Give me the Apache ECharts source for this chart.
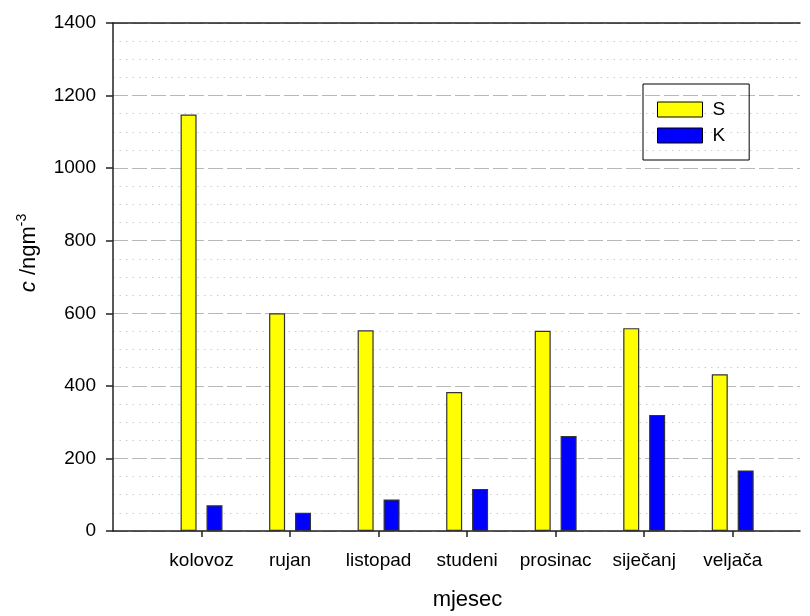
<!DOCTYPE html>
<html>
<head>
<meta charset="utf-8">
<script src="https://cdn.jsdelivr.net/npm/echarts@6/dist/echarts.min.js"></script>
<style>html,body{margin:0;padding:0;background:#fff;overflow:hidden}#c{width:810px;height:616px}</style>
</head>
<body>
<div id="c"></div>
<script>
var categories = ['kolovoz', 'rujan', 'listopad', 'studeni', 'prosinac', 'siječanj', 'veljača'];
var valuesS = [1148, 600, 553, 383, 552, 559, 432];
var valuesK = [71, 50, 87, 116, 262, 320, 167];
var yTicks = [0, 200, 400, 600, 800, 1000, 1200, 1400];
var positions = categories.map(function (_, i) { return i + 1; });

var FONT = '"Liberation Sans", Arial, sans-serif';
var el = document.getElementById('c');
var chart = echarts.init(el, null, {renderer: 'canvas'});
var xMax = 7.76;
chart.setOption({
  animation: false,
  textStyle: {fontFamily: FONT, color: '#000'},
  grid: {left: 113, top: 23, right: 10, bottom: 81, containLabel: false},
  legend: {
    orient: 'vertical', left: 643, top: 84,
    padding: [16, 24, 15, 14],
    itemWidth: 45, itemHeight: 15, itemGap: 7, icon: 'rect',
    borderColor: '#000', borderWidth: 1,
    textStyle: {fontFamily: FONT, fontSize: 19, color: '#000', padding: [0, 0, 0, 5]},
    itemStyle: {borderColor: '#000', borderWidth: 1},
    data: ['S', 'K']
  },
  xAxis: [{
    type: 'value', min: 0, max: xMax, interval: 1,
    name: 'mjesec', nameLocation: 'middle', nameGap: 58,
    nameTextStyle: {fontFamily: FONT, fontSize: 22, color: '#000', padding: [0, 0, 0, 22]},
    axisLine: {show: true, lineStyle: {color: '#222', width: 1.5}},
    axisTick: {show: true, length: 6, inside: false, customValues: positions, lineStyle: {color: '#222', width: 1.5}},
    axisLabel: {
      customValues: positions, fontSize: 19, color: '#000', margin: 20,
      formatter: function (v) { return categories[Math.round(v) - 1] || ''; }
    },
    splitLine: {show: false}
  }, {
    type: 'value', min: 0, max: xMax, position: 'top',
    axisLine: {show: true, lineStyle: {color: '#222', width: 1.5}},
    axisTick: {show: false}, axisLabel: {show: false}, splitLine: {show: false}
  }],
  yAxis: {
    type: 'value', min: 0, max: 1400, interval: 200,
    name: '{i|c} /ngm{sup|-3}', nameLocation: 'middle', nameGap: 70,
    nameTextStyle: {
      fontFamily: FONT, fontSize: 22, color: '#000', padding: [0, 0, 0, 48],
      rich: {
        i: {fontFamily: FONT, fontSize: 22, fontStyle: 'italic', color: '#000'},
        sup: {fontFamily: FONT, fontSize: 14, color: '#000', verticalAlign: 'bottom', padding: [0, 0, 14, 0]}
      }
    },
    axisLine: {show: true, lineStyle: {color: '#222', width: 1.5}},
    axisTick: {show: true, length: 7, lineStyle: {color: '#222', width: 1.5}},
    axisLabel: {fontSize: 19, color: '#000', margin: 17,
      formatter: function (v) { return yTicks.indexOf(v) >= 0 ? String(v) : ''; }},
    splitLine: {show: true, lineStyle: {color: '#b8b8b8', width: 1.2, type: [15, 4]}},
    minorTick: {show: false, splitNumber: 4},
    minorSplitLine: {show: true, lineStyle: {color: '#cccccc', width: 1, type: [1.5, 5]}}
  },
  series: [{
    name: 'S', type: 'bar', barWidth: 16, barGap: '62%',
    itemStyle: {color: '#ffff00', borderColor: '#333', borderWidth: 1.2},
    data: positions.map(function (p, i) { return [p, valuesS[i]]; })
  }, {
    name: 'K', type: 'bar', barWidth: 16, barGap: '62%',
    itemStyle: {color: '#0000ff', borderColor: '#333', borderWidth: 1.2},
    data: positions.map(function (p, i) { return [p, valuesK[i]]; })
  }]
});
</script>
</body>
</html>
